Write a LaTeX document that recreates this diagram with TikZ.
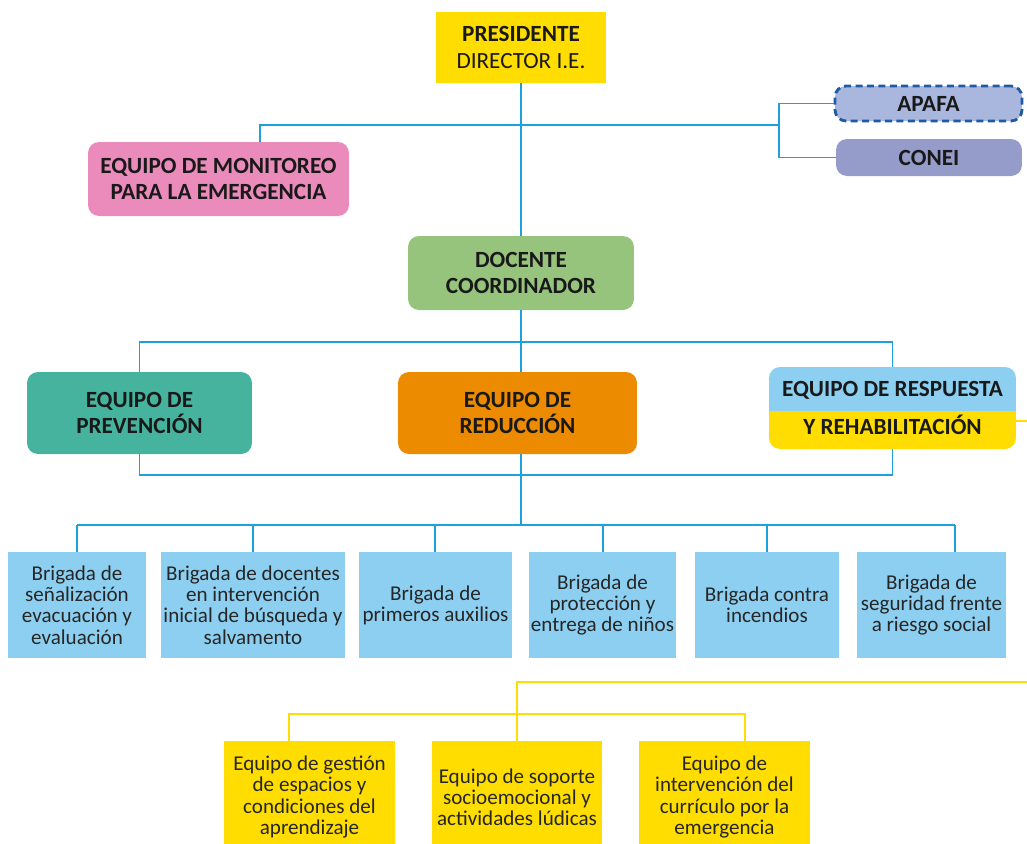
\documentclass[tikz,border=0pt]{standalone}
\usepackage{fontspec}
\setmainfont{Carlito}
\usetikzlibrary{calc}

\definecolor{lineblue}{RGB}{30,160,220}
\definecolor{ylw}{RGB}{255,221,0}
\definecolor{pinkbox}{RGB}{234,139,187}
\definecolor{greenbox}{RGB}{151,196,124}
\definecolor{tealbox}{RGB}{70,179,158}
\definecolor{orangebox}{RGB}{236,138,0}
\definecolor{skyb}{RGB}{141,207,240}
\definecolor{apafafill}{RGB}{169,183,222}
\definecolor{apafaedge}{RGB}{31,90,166}
\definecolor{coneifill}{RGB}{149,156,201}

\tikzset{
  bline/.style={draw=lineblue, line width=1.1pt},
  yline/.style={draw=ylw, line width=1.1pt},
  headbox/.style={rounded corners=0.22cm, align=center, inner sep=0pt,
    font=\fontsize{13.2}{15.2}\selectfont\bfseries, text=black!90},
  brig/.style={fill=skyb, align=center, inner sep=0pt, minimum height=2.12cm,
    font=\fontsize{12}{12.1}\selectfont, text=black!85},
  yteam/.style={fill=ylw, align=center, inner sep=0pt, minimum height=2.24cm,
    minimum width=3.42cm, font=\fontsize{12}{12.1}\selectfont, text=black!85},
}

\begin{document}
\begin{tikzpicture}[x=0.02cm, y=-0.02cm]
    \useasboundingbox (0,0) rectangle (1027,843);

    %%%%% top level %%%%%
    \node[fill=ylw, align=center, inner sep=0pt, minimum width=3.42cm, minimum height=1.42cm,
      font=\fontsize{13.2}{15.2}\selectfont, text=black!90] (pres) at (521,47.5)
      {\bfseries PRESIDENTE\\DIRECTOR I.E.};

    \node[headbox, fill=pinkbox, minimum width=5.22cm, minimum height=1.48cm] (mon) at (218.5,179)
      {EQUIPO DE MONITOREO\\PARA LA EMERGENCIA};

    \node[headbox, fill=apafafill, draw=apafaedge, line width=1.6pt, dash pattern=on 4pt off 2.5pt,
      minimum width=3.74cm, minimum height=0.70cm] (apafa) at (928.5,103.5) {APAFA};
    \node[headbox, fill=coneifill, minimum width=3.72cm, minimum height=0.74cm] (conei) at (929,157.5) {CONEI};

    \node[headbox, fill=greenbox, minimum width=4.52cm, minimum height=1.48cm] (doc) at (521,273)
      {DOCENTE\\COORDINADOR};

    %%%%% equipos %%%%%
    \node[headbox, fill=tealbox, minimum width=4.5cm, minimum height=1.64cm] (prev) at (139.5,413)
      {EQUIPO DE\\PREVENCIÓN};
    \node[headbox, fill=orangebox, minimum width=4.78cm, minimum height=1.64cm] (red) at (517.5,413)
      {EQUIPO DE\\REDUCCIÓN};
    \node[headbox, minimum width=4.94cm, minimum height=1.64cm,
      path picture={
        \fill[ylw, sharp corners] (path picture bounding box.south west) rectangle ([yshift=-0.06cm]path picture bounding box.east);
        \fill[skyb, sharp corners] (path picture bounding box.north west) rectangle ([yshift=-0.06cm]path picture bounding box.east);
      }] (resp) at (892.5,408)
      {EQUIPO DE RESPUESTA\\[6.5pt]Y REHABILITACIÓN};

    %%%%% brigadas %%%%%
    \node[brig, minimum width=2.76cm] (b1) at (77,605) {Brigada de\\señalización\\evacuación y\\evaluación};
    \node[brig, minimum width=3.68cm] (b2) at (253,605) {Brigada de docentes\\en intervención\\inicial de búsqueda y\\salvamento};
    \node[brig, minimum width=3.06cm] (b3) at (435.5,605) {Brigada de\\primeros auxilios};
    \node[brig, minimum width=2.94cm] (b4) at (602.5,605) {Brigada de\\protección y\\entrega de niños};
    \node[brig, minimum width=2.88cm] (b5) at (767,605) {Brigada contra\\incendios};
    \node[brig, minimum width=2.98cm] (b6) at (931.5,605) {Brigada de\\seguridad frente\\a riesgo social};

    %%%%% equipos de respuesta %%%%%
    \node[yteam] (ya) at (309.5,797) {Equipo de gestión\\de espacios y\\condiciones del\\aprendizaje};
    \node[yteam] (yb) at (517,797) {Equipo de soporte\\socioemocional y\\actividades lúdicas};
    \node[yteam] (yc) at (724.5,797) {Equipo de\\intervención del\\currículo por la\\emergencia};

    %%%%% connectors %%%%%
    \coordinate (kMon) at (260,125);
    \coordinate (kRight) at (779,125);
    \coordinate (h2) at (521,342);
    \coordinate (h3) at (521,475);
    \coordinate (bL) at (77,525);
    \coordinate (bR) at (955,525);
    \coordinate (yT) at (517,682);
    \coordinate (yEnd) at (1027,682);
    \coordinate (yM) at (517,714);

    \draw[bline] (pres.south) -- (doc.north);
    \draw[bline] (kMon |- mon.north) -- (kMon) -- (kRight);
    \draw[bline] (apafa.west) -| (kRight) |- (conei.west);

    \draw[bline] (doc.south) -- (doc.south |- red.north);
    \draw[bline] (prev.north) |- (h2) -| (resp.north);
    \draw[bline] (prev.south) |- (h3) -| (resp.south);
    \draw[bline] (doc.south |- red.south) -- (doc.south |- bL);

    \draw[bline] (bL) -- (bR);
    \foreach \n/\x in {b1/77,b2/253,b3/435,b4/603,b5/767,b6/955}
      \draw[bline] (\x,0 |- bL) -- (\x,0 |- \n.north);

    \draw[yline] ([yshift=-0.26cm]resp.east) -- ++(11,0);
    \draw[yline] (yEnd) -- (yT) -- (yb.north);
    \draw[yline] (289,0 |- ya.north) |- (yM) -| (745,0 |- yc.north);
\end{tikzpicture}
\end{document}
